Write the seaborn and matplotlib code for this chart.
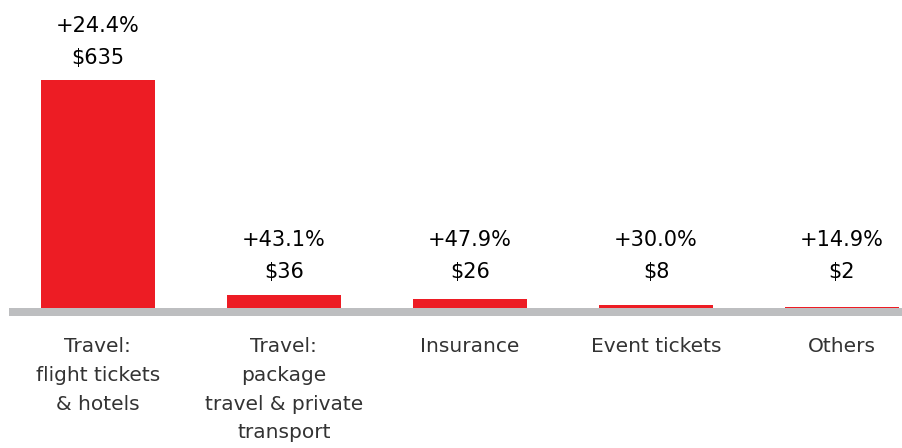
import matplotlib
matplotlib.use("Agg")
import matplotlib.pyplot as plt
import seaborn as sns
import pandas as pd

# Data
categories = [
    "Travel:\nflight tickets\n& hotels",
    "Travel:\npackage\ntravel & private\ntransport",
    "Insurance",
    "Event tickets",
    "Others",
]
values = [635, 36, 26, 8, 2]
growth = ["+24.4%", "+43.1%", "+47.9%", "+30.0%", "+14.9%"]

df = pd.DataFrame({"category": categories, "value": values})

sns.set_style("white")
plt.rcParams["font.family"] = ["DejaVu Sans"]

W, H = 903, 448
fig = plt.figure(figsize=(W / 100, H / 100), dpi=100)

# axes from x=9 to right edge, bottom at the centre of the gray band
ax = fig.add_axes([9 / W, (H - 312) / H, (W - 9) / W, 312 / H])

sns.barplot(
    data=df,
    x="category",
    y="value",
    color="#ED1C24",
    saturation=1,
    width=0.613,
    linewidth=0,
    ax=ax,
)

px_per_unit = 228 / 635
ax.set_xlim(-0.478, 4.328)
ax.set_ylim(-4 / px_per_unit, 308 / px_per_unit)

# value labels (small bars share a common label height)
min_anchor = 14 / px_per_unit
for i, (v, g) in enumerate(zip(values, growth)):
    anchor = max(v, min_anchor)
    ax.annotate(
        f"${v}",
        xy=(i, anchor),
        xytext=(0, 16),
        textcoords="offset points",
        ha="center",
        va="center",
        fontsize=15,
        color="black",
    )
    ax.annotate(
        g,
        xy=(i, anchor),
        xytext=(0, 39),
        textcoords="offset points",
        ha="center",
        va="center",
        fontsize=15,
        color="black",
    )

# styling
for s in ["top", "right", "left"]:
    ax.spines[s].set_visible(False)
ax.spines["bottom"].set_color("#BDBEC0")
ax.spines["bottom"].set_linewidth(8 * 0.72)
ax.spines["bottom"].set_capstyle("butt")
ax.spines["bottom"].set_zorder(3)

ax.set_yticks([])
ax.set_xlabel("")
ax.set_ylabel("")
ax.tick_params(axis="x", length=0, pad=18, labelsize=14.5, labelcolor="#333333")
for lbl in ax.get_xticklabels():
    lbl.set_linespacing(1.65)
    lbl.set_va("top")

fig.savefig("out.png", dpi=100)
